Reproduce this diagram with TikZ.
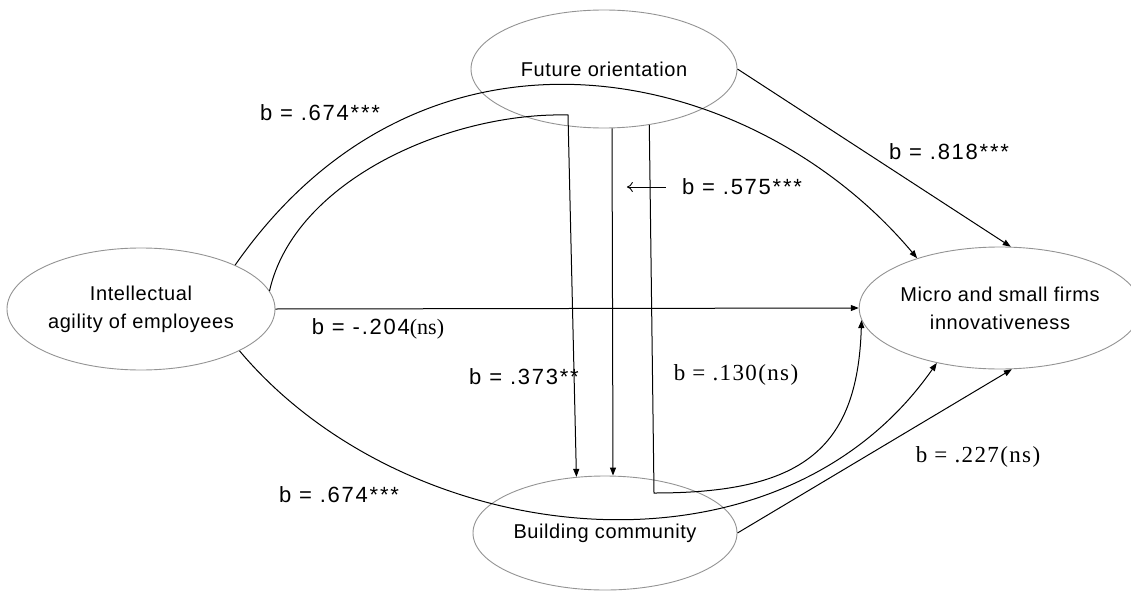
\documentclass[tikz,border=0pt]{standalone}
\usepackage{fontspec}
\setmainfont{Liberation Sans}
\newfontfamily\seriffont{Liberation Serif}
\usetikzlibrary{shapes.geometric,arrows.meta}

\begin{document}
\begin{tikzpicture}[x=1pt,y=-1pt,
  ell/.style={draw=gray!85,ellipse,line width=0.9pt,inner sep=0pt,align=center,font=\fontsize{20}{28}\selectfont\addfontfeatures{LetterSpace=3}},
  lab/.style={font=\fontsize{22}{26}\selectfont\addfontfeatures{LetterSpace=8},inner sep=0pt},
  labs/.style={font=\fontsize{23}{27}\seriffont\addfontfeatures{LetterSpace=6},inner sep=0pt},
  ar/.style={line width=1pt,-{Triangle[length=8pt,width=6pt]}}
]
\useasboundingbox (0,0) rectangle (1131,591);
% constructs
\node[ell,minimum width=268pt,minimum height=122pt] (ia) at (141,309) {Intellectual\\agility of employees};
\node[ell,minimum width=266pt,minimum height=118pt] (fo) at (604,69) {Future orientation};
\node[ell,minimum width=264pt,minimum height=114pt] (bc) at (605,533) {Building community};
\node[ell,minimum width=260pt,minimum height=122pt] (msfi) at (1000,308) {Micro and small firms\\innovativeness};
% bends of the mediated paths
\coordinate (c2) at (568,115);
\coordinate (c3) at (654,493);
% paths
\draw[ar] (ia.east) -- (msfi.west);
\draw[ar] (ia.25) .. controls +(192,-275) and +(-163,-194) .. (msfi.149);
\draw[ar] (ia.8) .. controls +(25,-111) and +(-118,-3) .. (c2) -- (bc.117);
\draw[ar] ([xshift=8pt]fo.south) -- ([xshift=8pt]bc.north);
\draw[ar] (fo.-51) -- (c3) .. controls +(146,0) and +(-4,131) .. (msfi.185);
\draw[ar] (ia.-23) .. controls +(168,200) and +(-161,230) .. (msfi.221);
\draw[ar] (fo.east) -- (msfi.80);
\draw[ar] (bc.east) -- (msfi.-79);
% coefficients
\node[lab] (l1) at (320,113) {b = .674***};
\node[lab] (l2) at (949,152) {b = .818***};
\node[lab] (l3) at (742,187) {b = .575***};
\node[lab] (l4) at (378,329) {b = -.204{\seriffont(ns)}};
\node[lab] (l5) at (524,377) {b = .373**};
\node[labs] (l6) at (736,375) {b = .130(ns)};
\node[labs] (l7) at (978,457) {b = .227(ns)};
\node[lab] (l8) at (339,495) {b = .674***};
\draw[line width=0.9pt,-{To[length=6pt,width=10pt]}] (l3.west) ++(-16,0) -- ++(-39,0);
\end{tikzpicture}
\end{document}
